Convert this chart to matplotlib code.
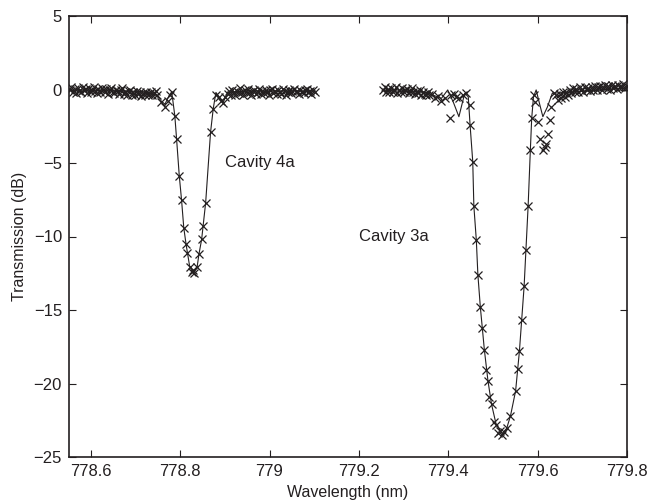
import numpy as np
import matplotlib
matplotlib.use("Agg")
import matplotlib.pyplot as plt

plt.rcParams["font.family"] = ["Liberation Sans", "DejaVu Sans"]

# Измеренные точки (маркеры x), фон около 0 dB
base_a_range = (778.553, 778.745)
base_a_y = [-0.05, 0.15, -0.2, 0.05, -0.25, 0.1, -0.1, -0.2, 0.2, -0.05,
            0.05, -0.25, 0.1, -0.15, 0.0, 0.15, -0.1, -0.25, 0.05, -0.15,
            0.1, -0.05, -0.2, 0.05, -0.3, -0.05, 0.1, -0.15, -0.25, 0.0,
            -0.1, -0.3, -0.05, 0.1, -0.3, -0.15, -0.35, -0.1, 0.0, -0.4,
            -0.2, -0.35, -0.1, -0.3, -0.15, -0.45, -0.25, -0.35, -0.2, -0.4,
            -0.3, -0.15, -0.35, -0.25, -0.1]

dip_a_x = [778.747, 778.758, 778.766, 778.772, 778.777, 778.781, 778.788,
           778.792, 778.798, 778.803, 778.808, 778.813, 778.815, 778.821,
           778.826, 778.828, 778.831, 778.838, 778.842, 778.848, 778.851,
           778.857, 778.868, 778.874, 778.880, 778.886, 778.892, 778.896,
           778.901]
dip_a_y = [-0.37, -0.83, -1.17, -0.8, -0.4, -0.15, -1.8, -3.4, -5.9, -7.5,
           -9.4, -10.5, -11.1, -12.05, -12.4, -12.3, -12.45, -12.05, -11.2,
           -10.2, -9.3, -7.7, -2.9, -1.3, -0.4, -0.5, -0.8, -0.95, -0.5]

base_b_range = (778.906, 779.101)
base_b_y = [-0.3, -0.1, -0.35, 0.0, -0.2, -0.4, -0.1, -0.25, 0.1, -0.2,
            -0.35, -0.05, -0.25, 0.05, -0.2, -0.4, -0.1, 0.0, -0.3, -0.15,
            0.05, -0.3, -0.1, -0.25, 0.0, -0.2, -0.35, -0.05, 0.05, -0.25,
            -0.1, -0.3, 0.0, -0.2, -0.3, 0.05, -0.1, -0.35, -0.15, 0.0,
            -0.25, -0.1, 0.05, -0.2, -0.1, -0.3, 0.0, -0.15, -0.25, -0.05,
            0.05, -0.2, -0.1, -0.3, 0.0, -0.15]

base_c_range = (779.254, 779.358)
base_c_y = [-0.05, 0.15, -0.15, 0.05, -0.2, 0.1, -0.15, -0.05, 0.15, -0.25,
            0.0, -0.15, 0.1, -0.2, -0.05, 0.05, -0.25, -0.1, 0.1, -0.2,
            -0.3, -0.1, -0.25, 0.0, -0.35, -0.15, -0.3, -0.4, -0.2, -0.35]

dip_b_x = [779.363, 779.370, 779.377, 779.385, 779.392, 779.403, 779.407,
           779.413, 779.418, 779.425, 779.433, 779.440, 779.448, 779.449,
           779.455, 779.4575, 779.463, 779.4665, 779.472, 779.4755, 779.481,
           779.485, 779.489, 779.4925, 779.497, 779.503, 779.5075, 779.5125,
           779.5165, 779.521, 779.526, 779.531, 779.5395, 779.551, 779.556,
           779.5595, 779.5645, 779.570, 779.5745, 779.579, 779.584, 779.587,
           779.593, 779.595, 779.602, 779.606, 779.612, 779.616, 779.619,
           779.623, 779.627, 779.631, 779.638]
dip_b_y = [-0.3, -0.6, -0.45, -0.75, -0.6, -1.96, -0.37, -0.3, -0.49, -0.6,
           -0.37, -0.26, -1.05, -2.4, -4.9, -7.93, -10.24, -12.6, -14.8,
           -16.2, -17.7, -19.1, -19.8, -20.9, -21.4, -22.6, -22.8, -23.4,
           -23.2, -23.5, -23.3, -23.05, -22.2, -20.5, -19.0, -17.8, -15.7,
           -13.4, -10.9, -7.93, -4.1, -1.96, -0.37, -0.83, -2.19, -3.4, -4.1,
           -3.9, -3.7, -3.0, -2.1, -1.17, -0.26]

base_e_range = (779.642, 779.800)
base_e_y = [-0.4, -0.7, -0.3, -0.6, -0.2, -0.5, -0.15, -0.4, 0.0, -0.25,
            0.1, -0.15, 0.05, -0.2, 0.15, 0.0, -0.15, 0.2, -0.05, 0.1,
            -0.1, 0.2, 0.0, 0.25, -0.05, 0.15, 0.25, 0.0, 0.2, 0.3,
            0.05, 0.25, 0.0, 0.3, 0.1, 0.25, 0.05, 0.3, 0.15, 0.2,
            0.35, 0.1, 0.25]

# Сплошная кривая
line_a_x = [778.553, 778.65, 778.72, 778.747, 778.758, 778.766, 778.772,
            778.781, 778.788, 778.792, 778.798, 778.803, 778.808, 778.813,
            778.821, 778.831, 778.838, 778.842, 778.848, 778.857, 778.868,
            778.874, 778.880, 778.886, 778.896, 778.906, 778.95, 779.101]
line_a_y = [-0.05, -0.05, -0.15, -0.4, -0.8, -1.0, -0.6, -0.15, -1.8, -3.4,
            -5.9, -7.5, -9.4, -10.5, -12.0, -12.45, -12.05, -11.2, -10.2,
            -7.7, -2.9, -1.3, -0.2, -0.45, -0.9, -0.2, -0.1, -0.1]

line_b_x = [779.254, 779.35, 779.385, 779.399, 779.412, 779.424, 779.437,
            779.445, 779.449, 779.455, 779.4575, 779.463, 779.4665, 779.472,
            779.481, 779.489, 779.497, 779.5075, 779.5165, 779.521, 779.531,
            779.5395, 779.551, 779.5595, 779.570, 779.579, 779.584, 779.587,
            779.591, 779.597, 779.604, 779.612, 779.622, 779.633, 779.66,
            779.80]
line_b_y = [-0.05, -0.2, -0.6, -0.03, -0.9, -1.85, -0.26, -0.5, -2.4, -4.9,
            -7.93, -10.24, -12.6, -14.8, -17.7, -19.8, -21.4, -22.8, -23.2,
            -23.4, -23.05, -22.2, -20.5, -17.8, -13.4, -7.93, -4.1, -1.96,
            -0.5, -0.03, -0.9, -1.85, -1.2, -0.26, -0.2, 0.1]

cavity_labels = ["Cavity 4a", "Cavity 3a"]
label_pos = [(778.9, -5), (779.2, -10)]

ink = "#231f20"


def seg_x(rng, vals):
    """Равномерная сетка длин волн для участка фона."""
    return np.linspace(rng[0], rng[1], len(vals))


fig = plt.figure(figsize=(6.52, 5.0), dpi=100)
ax = fig.add_axes([0.1058, 0.086, 0.8556, 0.882])

ax.plot(line_a_x, line_a_y, "-", color=ink, lw=0.8)
ax.plot(line_b_x, line_b_y, "-", color=ink, lw=0.8)

mx = np.concatenate([seg_x(base_a_range, base_a_y), dip_a_x,
                     seg_x(base_b_range, base_b_y),
                     seg_x(base_c_range, base_c_y), dip_b_x,
                     seg_x(base_e_range, base_e_y)])
my = np.concatenate([base_a_y, dip_a_y, base_b_y, base_c_y, dip_b_y,
                     base_e_y])
ax.plot(mx, my, "x", color=ink, ms=6, mew=0.9)

for lab, (lx, ly) in zip(cavity_labels, label_pos):
    ax.text(lx, ly, lab, ha="left", va="center", fontsize=12, color=ink)

ax.set_xlim(778.551, 779.8)
ax.set_ylim(-25, 5)
ax.set_xticks([778.6, 778.8, 779.0, 779.2, 779.4, 779.6, 779.8])
ax.set_xticklabels(["778.6", "778.8", "779", "779.2", "779.4", "779.6",
                    "779.8"])
ax.set_yticks([5, 0, -5, -10, -15, -20, -25])
ax.tick_params(direction="in", top=True, right=True, length=5, width=0.8,
               labelsize=12, pad=5, colors=ink)
for s in ax.spines.values():
    s.set_linewidth(1.2)
    s.set_color(ink)

ax.set_xlabel("Wavelength (nm)", fontsize=11.5, labelpad=4, color=ink)
ax.set_ylabel("Transmission (dB)", fontsize=11.5, labelpad=5, color=ink)

fig.savefig("out.png", dpi=100)
